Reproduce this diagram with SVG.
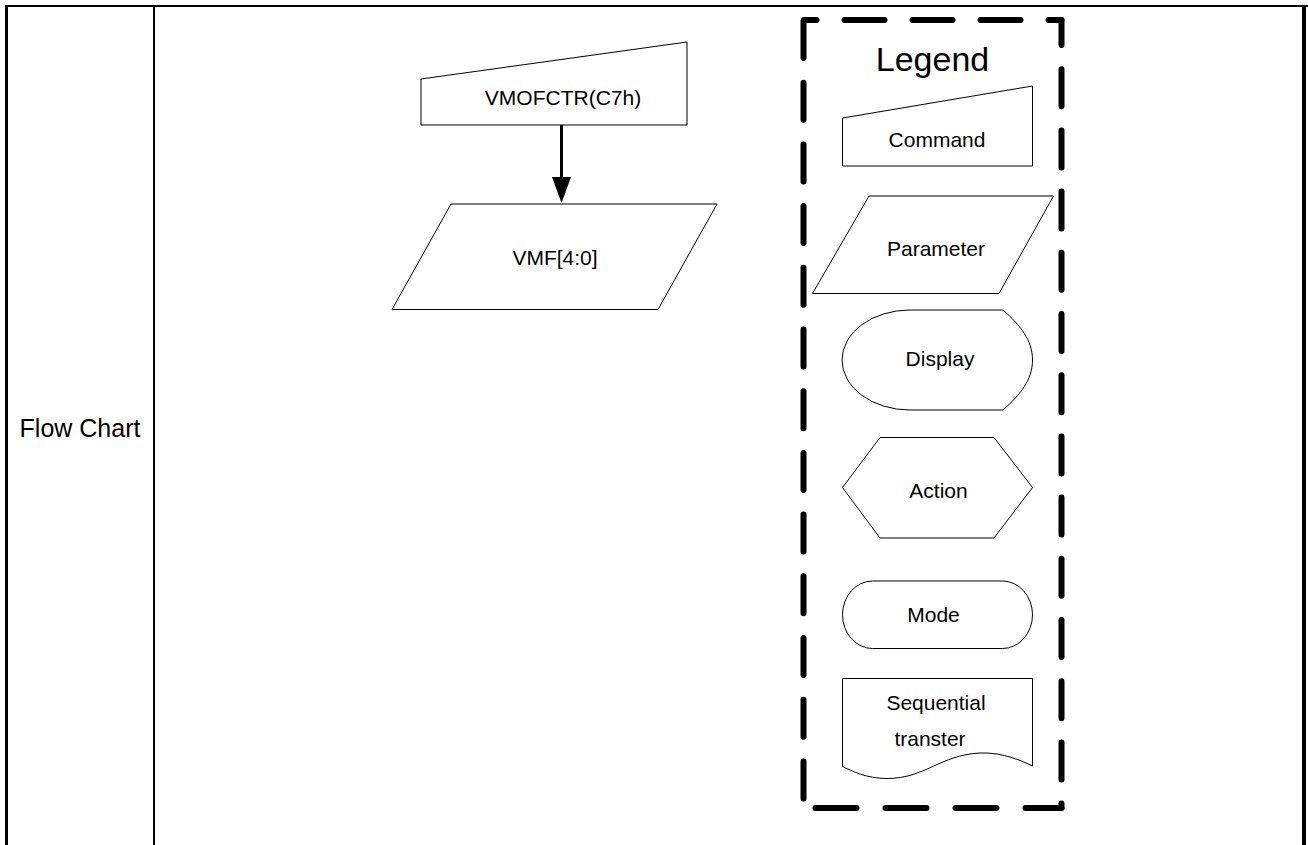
<svg xmlns="http://www.w3.org/2000/svg" width="1308" height="845" viewBox="0 0 1308 845">
<style>
.frame{stroke:#000;fill:none}
.shape{fill:#fff;stroke:#000;stroke-width:1}
.lbl{font-family:"Liberation Sans",Arial,sans-serif;font-size:21px;fill:#000;text-anchor:middle}
.dash{stroke:#000;stroke-width:6;stroke-linecap:round;fill:none}
</style>
<rect width="1308" height="845" fill="#fff"/>
<g id="table">
<line class="frame" x1="5" y1="6" x2="1308" y2="6" stroke-width="2"/>
<line class="frame" x1="6.5" y1="5" x2="6.5" y2="845" stroke-width="3"/>
<line class="frame" x1="154" y1="6" x2="154" y2="845" stroke-width="2"/>
<line class="frame" x1="1304" y1="5" x2="1304" y2="845" stroke-width="4"/>
<text class="lbl" x="80" y="437" style="font-size:25px">Flow Chart</text>
</g>
<g id="connectors">
<line x1="561.5" y1="125" x2="561.5" y2="178" stroke="#000" stroke-width="3"/>
<polygon points="552,177 571,177 561.5,203" fill="#000"/>
</g>
<g id="node-command">
<polygon class="shape" points="421,79 687,42 687,125 421,125"/>
<text class="lbl" x="563" y="105">VMOFCTR(C7h)</text>
</g>
<g id="node-parameter">
<polygon class="shape" points="451,204 717,204 658,309.5 392,309.5"/>
<text class="lbl" x="555" y="265">VMF[4:0]</text>
</g>
<g id="legend">
<line class="dash" x1="804" y1="20" x2="1061.5" y2="20" stroke-dasharray="40 28" stroke-dashoffset="27.5"/>
<line class="dash" x1="803.5" y1="20" x2="803.5" y2="808" stroke-dasharray="37 24.7" stroke-dashoffset="-1"/>
<line class="dash" x1="1061.5" y1="20" x2="1061.5" y2="808" stroke-dasharray="37 24.2" stroke-dashoffset="12"/>
<line class="dash" x1="815.5" y1="808" x2="1061.5" y2="808" stroke-dasharray="41 29"/>
<text class="lbl" x="932.5" y="71" style="font-size:34px">Legend</text>
</g>
<g id="legend-command">
<polygon class="shape" points="842.5,118 1032.5,86 1032.5,166 842.5,166"/>
<text class="lbl" x="937" y="147">Command</text>
</g>
<g id="legend-parameter">
<polygon class="shape" points="869,196 1053.5,196 999,293.5 812.5,293.5"/>
<text class="lbl" x="936" y="256">Parameter</text>
</g>
<g id="legend-display">
<path class="shape" d="M910,310 L1003,310 C1020,325 1032.5,340 1032.5,360 C1032.5,380 1020,395 1003,410 L910,410 A68,50 0 0 1 910,310 Z"/>
<text class="lbl" x="940" y="366">Display</text>
</g>
<g id="legend-action">
<polygon class="shape" points="842.5,487.5 880,437.5 994,437.5 1032.5,487.5 994,538 880,538"/>
<text class="lbl" x="938.5" y="498">Action</text>
</g>
<g id="legend-mode">
<rect class="shape" x="842.5" y="581" width="190" height="67.5" rx="30" ry="33.75"/>
<text class="lbl" x="933.5" y="622">Mode</text>
</g>
<g id="legend-sequential">
<path class="shape" d="M842.5,678.5 H1032.5 V766 C1012,756 996,752.5 980,753 C940,755 925,778.5 887,778.5 C866,778.5 852,771 842.5,766.5 Z"/>
<text class="lbl" x="936" y="710">Sequential</text>
<text class="lbl" x="930" y="746">transter</text>
</g>
</svg>
